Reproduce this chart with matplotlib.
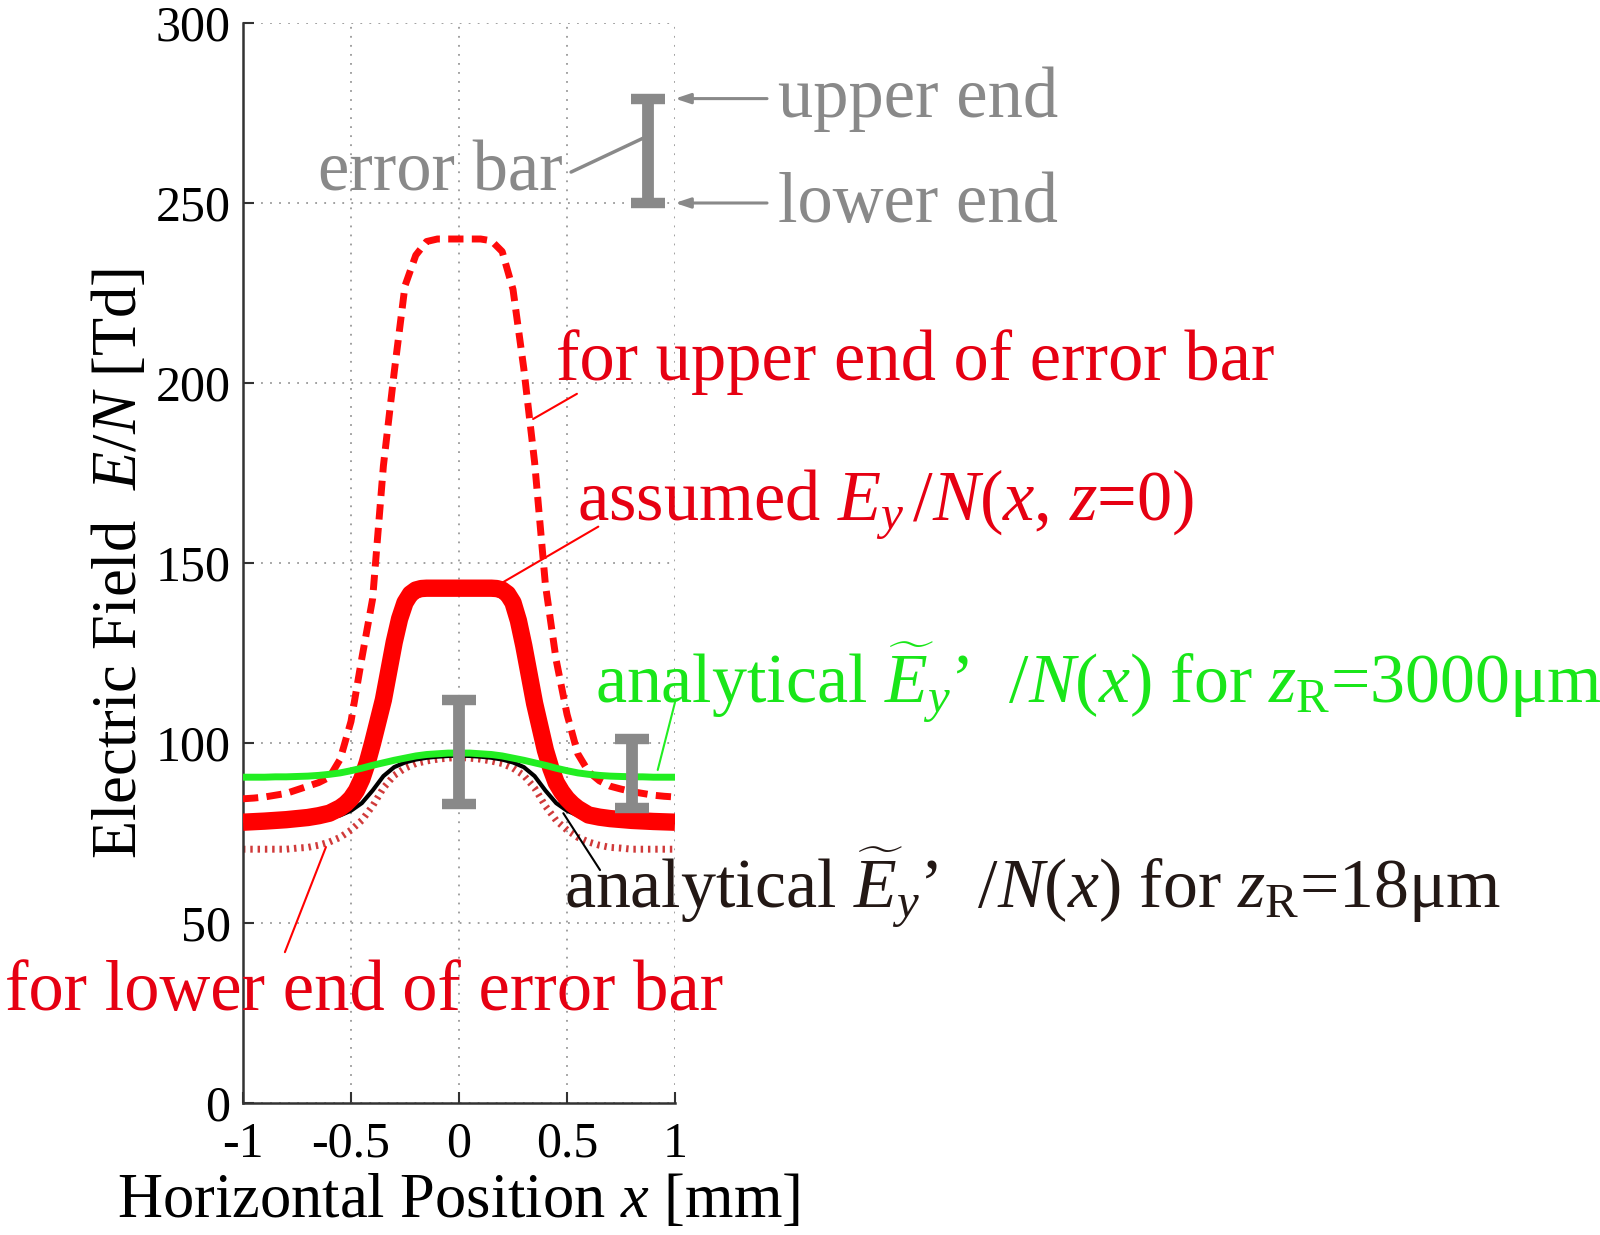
import matplotlib
matplotlib.use("Agg")
import matplotlib.pyplot as plt

plt.rcParams['font.family'] = ['Liberation Serif', 'DejaVu Serif']
plt.rcParams['mathtext.fontset'] = 'custom'
plt.rcParams['mathtext.rm'] = 'Liberation Serif'
plt.rcParams['mathtext.it'] = 'Liberation Serif:italic'
plt.rcParams['mathtext.bf'] = 'Liberation Serif:bold'
plt.rcParams['axes.unicode_minus'] = False

# sample positions along x [mm]
x_pos = [-1.00, -0.95, -0.90, -0.85, -0.80, -0.75, -0.70, -0.65, -0.60, -0.55, -0.50,
         -0.45, -0.40, -0.35, -0.30, -0.25, -0.20, -0.15, -0.10, -0.05, 0.00,
         0.05, 0.10, 0.15, 0.20, 0.25, 0.30, 0.35, 0.40, 0.45, 0.50,
         0.55, 0.60, 0.65, 0.70, 0.75, 0.80, 0.85, 0.90, 0.95, 1.00]

# E/N for upper end of error bar (dashed)
en_upper = [84.5, 84.7, 85.0, 85.5, 86.0, 87.0, 88.0, 89.0, 90.5, 95.5, 106.0,
            123.5, 140.0, 177.0, 203.0, 227.0, 235.5, 239.3, 240.0, 240.0, 240.0,
            240.0, 240.0, 239.5, 236.5, 226.0, 204.0, 178.0, 144.0, 123.0, 108.0,
            97.0, 92.0, 89.5, 88.0, 87.2, 86.5, 86.0, 85.5, 85.2, 85.0]

# assumed Ey/N(x, z=0) (thick solid), sampled finer at the corners
x_assumed = [-1.0, -0.9, -0.8, -0.7, -0.65, -0.6, -0.55, -0.525, -0.5, -0.475, -0.45,
             -0.425, -0.4, -0.35, -0.3, -0.275, -0.25, -0.225, -0.2, -0.175, -0.15,
             0.0, 0.15, 0.175, 0.2, 0.225, 0.25, 0.275, 0.3, 0.35, 0.4, 0.425, 0.45,
             0.475, 0.5, 0.525, 0.55, 0.6, 0.65, 0.7, 0.8, 0.9, 1.0]
en_assumed = [78.0, 78.3, 78.7, 79.3, 79.8, 80.5, 82.0, 83.1, 84.6, 86.8, 90.0,
              94.5, 100.0, 112.0, 128.0, 134.5, 139.0, 141.4, 142.5, 142.9, 143.0,
              143.0, 143.0, 142.9, 142.5, 141.4, 139.0, 134.0, 127.0, 111.0, 98.0,
              93.0, 89.0, 86.5, 84.5, 83.0, 81.8, 80.0, 79.4, 79.0, 78.5, 78.2, 78.0]

# analytical, zR = 3000 um (green)
en_zr3000 = [90.5, 90.5, 90.5, 90.6, 90.6, 90.7, 90.8, 91.0, 91.3, 91.7, 92.3,
             93.0, 93.8, 94.5, 95.2, 95.8, 96.4, 96.8, 97.0, 97.2, 97.2,
             97.2, 97.0, 96.8, 96.4, 95.8, 95.2, 94.5, 93.8, 93.0, 92.3,
             91.7, 91.3, 91.0, 90.8, 90.7, 90.6, 90.6, 90.5, 90.5, 90.5]

# analytical, zR = 18 um (black)
en_zr18 = [78.0, 78.0, 78.0, 78.0, 78.0, 78.0, 78.2, 78.5, 79.1, 79.9, 81.2,
           83.3, 86.8, 90.8, 93.3, 94.6, 95.4, 95.9, 96.2, 96.4, 96.5,
           96.4, 96.2, 95.9, 95.4, 94.6, 93.3, 90.8, 86.8, 83.3, 81.2,
           79.9, 79.1, 78.5, 78.2, 78.0, 78.0, 78.0, 78.0, 78.0, 78.0]

# E/N for lower end of error bar (dotted)
en_lower = [70.5, 70.5, 70.5, 70.5, 70.5, 70.8, 71.0, 71.6, 72.5, 73.8, 75.8,
            78.5, 82.5, 87.5, 91.0, 93.0, 94.3, 95.0, 95.5, 95.8, 96.0,
            95.8, 95.5, 95.0, 94.3, 93.0, 91.0, 87.5, 82.5, 78.5, 75.8,
            73.8, 72.5, 71.6, 71.0, 70.8, 70.5, 70.5, 70.5, 70.5, 70.5]

# measured error bars
err_x = [0.0, 0.8]
err_low = [83.0, 82.0]
err_high = [112.0, 101.0]

# key error bar in the corner
key_x = [0.875]
key_low = [250.0]
key_high = [279.0]

x_ticks = [-1, -0.5, 0, 0.5, 1]
x_ticklabels = ['-1', '-0.5', '0', '0.5', '1']
y_ticks = [0, 50, 100, 150, 200, 250, 300]

RED_TXT = '#e60012'
GREEN_TXT = '#19e619'
BLACK_TXT = '#231815'
GRAY = '#898989'

fig = plt.figure(figsize=(16, 12.35), dpi=100)
ax = fig.add_axes([243 / 1600, 1 - 1103 / 1235, 432 / 1600, 1080 / 1235])

ax.plot(x_pos, en_lower, color='#d03a3a', lw=5, linestyle=(0, (0.35, 0.7)),
        dash_capstyle='butt', zorder=2)
ax.plot(x_pos, en_zr18, color='black', lw=3, zorder=3)
ax.plot(x_assumed, en_assumed, color='#ff0000', lw=12.5, solid_joinstyle='round',
        solid_capstyle='butt', zorder=4)
ax.plot(x_pos, en_upper, color='#ff0a0a', lw=5, linestyle=(0, (2.2, 1.2)),
        zorder=5)
ax.plot(x_pos, en_zr3000, color='#22ee22', lw=5, zorder=6)

def draw_bars(xs, lo, hi):
    mid = [(a + b) / 2 for a, b in zip(lo, hi)]
    half = [(b - a) / 2 for a, b in zip(lo, hi)]
    ax.errorbar(xs, mid, yerr=half, fmt='none', ecolor=GRAY, elinewidth=8.5,
                capsize=12, capthick=7.5, zorder=8, clip_on=False)

draw_bars(err_x, err_low, err_high)
draw_bars(key_x, key_low, key_high)

ax.set_xlim(-1, 1)
ax.set_ylim(0, 300)
ax.set_xticks(x_ticks)
ax.set_xticklabels(x_ticklabels)
ax.set_yticks(y_ticks)
ax.tick_params(direction='in', length=8, width=1.5, labelsize=36, color='#333333',
               top=False, right=False)
ax.tick_params(axis='x', pad=13)
ax.tick_params(axis='y', pad=9)
ax.grid(True, color='#999999', linestyle=(0, (1, 4)), lw=1.3)
ax.set_axisbelow(True)
for side in ('top', 'right'):
    ax.spines[side].set_visible(False)
for side in ('left', 'bottom'):
    ax.spines[side].set_color('#333333')
    ax.spines[side].set_linewidth(1.8)

ax.set_xlabel(r'Horizontal Position $x$ [mm]', fontsize=45, labelpad=4)
ax.set_ylabel(r'Electric Field  $E/N$ [Td]', fontsize=45, labelpad=4)

# annotations
fs = 50.8
tE = r'$\widetilde{E}_y$'
ax.text(0.449, 200.8, 'for upper end of error bar', color=RED_TXT, fontsize=fs,
        va='baseline')
ax.text(0.546, 161.9, r'assumed $E_y\,/N(x$, $z$=0)', color=RED_TXT, fontsize=fs,
        va='baseline')
ax.text(0.63, 111.4, 'analytical ' + tE + r'’  $/N(x)$ for $z_\mathrm{R}$=3000μm',
        color=GREEN_TXT, fontsize=50.3, va='baseline')
ax.text(0.486, 54.2, 'analytical ' + tE + r'’  $/N(x)$ for $z_\mathrm{R}$=18μm',
        color=BLACK_TXT, fontsize=50.3, va='baseline')
ax.text(-2.10, 25.8, 'for lower end of error bar', color=RED_TXT, fontsize=fs,
        va='baseline')
ax.text(0.481, 253.6, 'error bar', color=GRAY, fontsize=fs, va='baseline', ha='right')
ax.text(1.477, 273.9, 'upper end', color=GRAY, fontsize=fs, va='baseline')
ax.text(1.477, 244.7, 'lower end', color=GRAY, fontsize=fs, va='baseline')

def leader(start, end, color, lw=1.5, style='-'):
    ax.annotate('', xy=end, xytext=start, annotation_clip=False,
                arrowprops=dict(arrowstyle=style, color=color, lw=lw,
                                shrinkA=0, shrinkB=0))

leader((0.546, 197.0), (0.343, 190.0), '#ff0000')
leader((0.645, 160.1), (0.182, 143.9), '#ff0000')
leader((1.0, 111.3), (0.92, 92.5), '#22ee22')
leader((0.653, 64.7), (0.483, 80.5), 'black')
leader((-0.806, 41.9), (-0.616, 71.1), '#ff0000')
leader((0.519, 258.6), (0.852, 268.0), GRAY, lw=2.5)
leader((1.426, 279.0), (1.0, 279.0), GRAY, lw=2.2, style='-|>,head_length=0.9,head_width=0.3')
leader((1.426, 250.0), (1.0, 250.0), GRAY, lw=2.2, style='-|>,head_length=0.9,head_width=0.3')

fig.savefig('out.png', dpi=100)
